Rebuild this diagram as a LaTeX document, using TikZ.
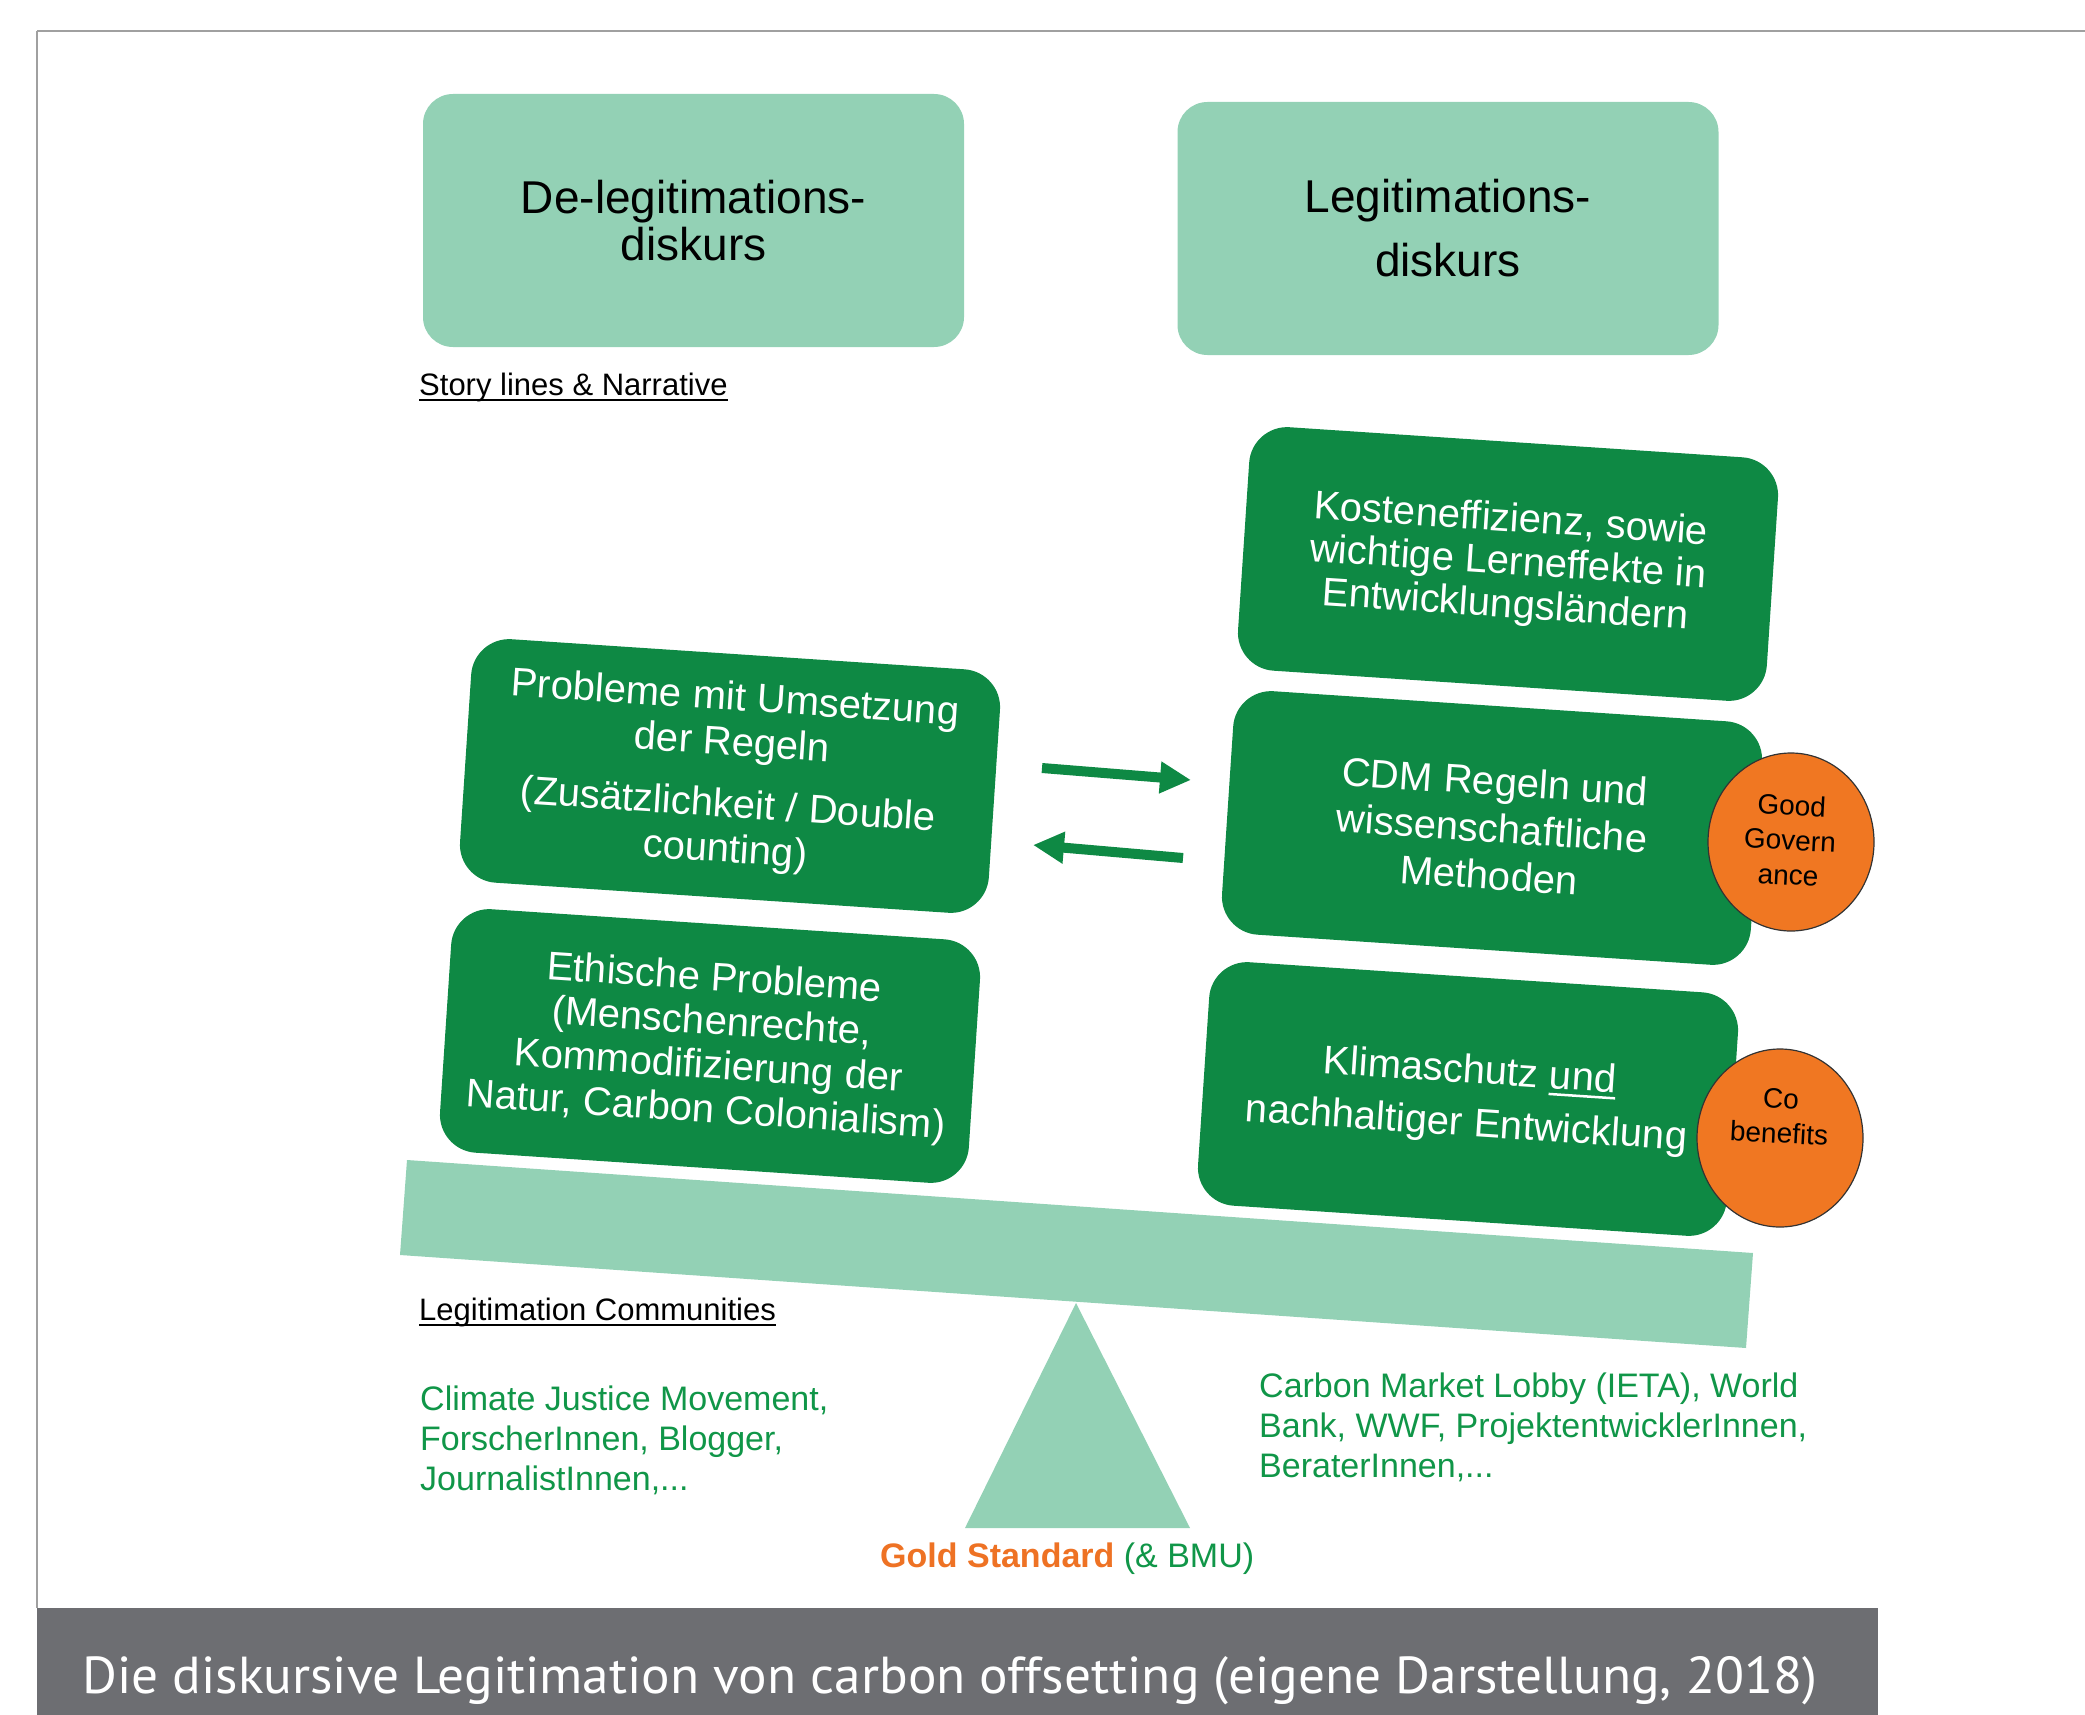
\documentclass[tikz,border=0pt]{standalone}
\usepackage{fontspec}
\usepackage{graphicx}
\setmainfont{Liberation Sans}
\newfontfamily\capfont{PT Sans}
\usetikzlibrary{arrows.meta,shapes.geometric}
\definecolor{mint}{RGB}{147,209,181}
\definecolor{dgreen}{RGB}{14,137,68}
\definecolor{tgreen}{RGB}{16,150,72}
\definecolor{orng}{RGB}{240,119,34}
\definecolor{gstd}{RGB}{238,114,36}
\definecolor{capgray}{RGB}{109,110,114}
\definecolor{framegray}{RGB}{160,160,160}
\newsavebox\ulbox
\newcommand\lowul[1]{\sbox\ulbox{#1}\rlap{\rule[-7pt]{\wd\ulbox}{2.5pt}}\usebox\ulbox}
\begin{document}
\begin{tikzpicture}[x=1pt,y=-1pt,
  topbox/.style={fill=mint, rounded corners=30pt, minimum width=541pt, minimum height=253pt, inner sep=0pt, align=center},
  darkbox/.style={fill=dgreen, rounded corners=38pt, minimum width=530pt, minimum height=244pt, inner sep=0pt, align=center, text=white, rotate=-3.8},
  orcirc/.style={ellipse, fill=orng, draw=black!80, line width=1.2pt, minimum width=166pt, minimum height=178pt, inner sep=0pt},
  circtext/.style={align=center, inner sep=0pt, text=black, font=\fontsize{28}{35}\selectfont, rotate=-3},
  ulabel/.style={anchor=base west, inner sep=0pt, text=black, font=\fontsize{31}{35}\selectfont},
  gline/.style={anchor=base west, inner sep=0pt, text=tgreen, font=\fontsize{34}{40}\selectfont},
  bigarrow/.style={draw=dgreen, line width=10pt, -{Triangle[length=31pt,width=30pt]}},
]
\useasboundingbox (0,0) rectangle (2085,1715);
% frame
\draw[framegray, line width=2.5pt] (37,31) -- (2085,31);
\draw[framegray, line width=1.5pt] (37,31) -- (37,1608);

% top boxes
\node[topbox, font=\fontsize{46}{46.5}\selectfont] (delegit) at (693.5,220.5) {De-legitimations-\\diskurs};
\node[topbox, font=\fontsize{46}{64}\selectfont] (legit) at (1448,228.5) {Legitimations-\\diskurs};

% story lines label
\node[ulabel] (story) at (419,395) {Story lines \& Narrative};
\draw[black, line width=2.5pt] ([yshift=-5pt]story.base west) -- ([yshift=-5pt]story.base east);

% balance beam and fulcrum
\fill[mint] (1076,1303) -- (1190,1528) -- (965,1528) -- cycle;
\fill[mint] (407,1160) -- (1753,1253) -- (1746,1348) -- (400,1255) -- cycle;

% dark boxes
\node[darkbox, font=\fontsize{40}{43}\selectfont] (kosten) at (1508,564) {Kosteneffizienz, sowie\\wichtige Lerneffekte in\\Entwicklungsländern};
\node[darkbox, font=\fontsize{40}{47}\selectfont] (cdm) at (1492,828) {CDM Regeln und\\wissenschaftliche\\Methoden};
\node[darkbox, font=\fontsize{40}{53}\selectfont] (klima) at (1468,1099) {Klimaschutz \lowul{und}\\nachhaltiger Entwicklung};
\node[darkbox, font=\fontsize{40}{45}\selectfont] (probleme) at (730,776) {Probleme mit Umsetzung\\der Regeln\\[17pt](Zusätzlichkeit / Double\\counting)};
\node[darkbox, font=\fontsize{40}{44}\selectfont] (ethik) at (710,1046) {Ethische Probleme\\(Menschenrechte,\\Kommodifizierung der\\Natur, Carbon Colonialism)};

% orange circles
\node[orcirc] (gg) at (1791,842) {};
\node[circtext] (ggt) at (1790,840) {Good\\Govern\\ance};
\node[orcirc] (cb) at (1780,1138) {};
\node[circtext] (cbt) at (1780,1116) {Co\\benefits};

% arrows between columns
\coordinate (ra) at (1042,768);
\coordinate (rb) at (1191,780);
\coordinate (la) at (1183,858);
\coordinate (lb) at (1033,845);
\draw[bigarrow] (ra) -- (rb);
\draw[bigarrow] (la) -- (lb);

% legitimation communities
\node[ulabel] (legcom) at (419,1320) {Legitimation Communities};
\draw[black, line width=2.5pt] ([yshift=-5pt]legcom.base west) -- ([yshift=-5pt]legcom.base east);

\node[gline] (l1) at (420,1410) {Climate Justice Movement,};
\node[gline] (l2) at (420,1450) {ForscherInnen, Blogger,};
\node[gline] (l3) at (420,1490) {JournalistInnen,...};

\node[gline] (r1) at (1259,1397) {Carbon Market Lobby (IETA), World};
\node[gline] (r2) at (1259,1437) {Bank, WWF, ProjektentwicklerInnen,};
\node[gline] (r3) at (1259,1477) {BeraterInnen,...};

\node[gline] (gold) at (880,1567) {\textcolor{gstd}{\textbf{Gold Standard}} (\& BMU)};

% caption bar
\fill[capgray] (37,1608) rectangle (1878,1715);
\node[anchor=base west, inner sep=0pt, text=white] (cap) at (82,1693) {\resizebox{1735pt}{\height}{\capfont\fontsize{52}{52}\selectfont Die diskursive Legitimation von carbon offsetting (eigene Darstellung, 2018)}};
\end{tikzpicture}
\end{document}
